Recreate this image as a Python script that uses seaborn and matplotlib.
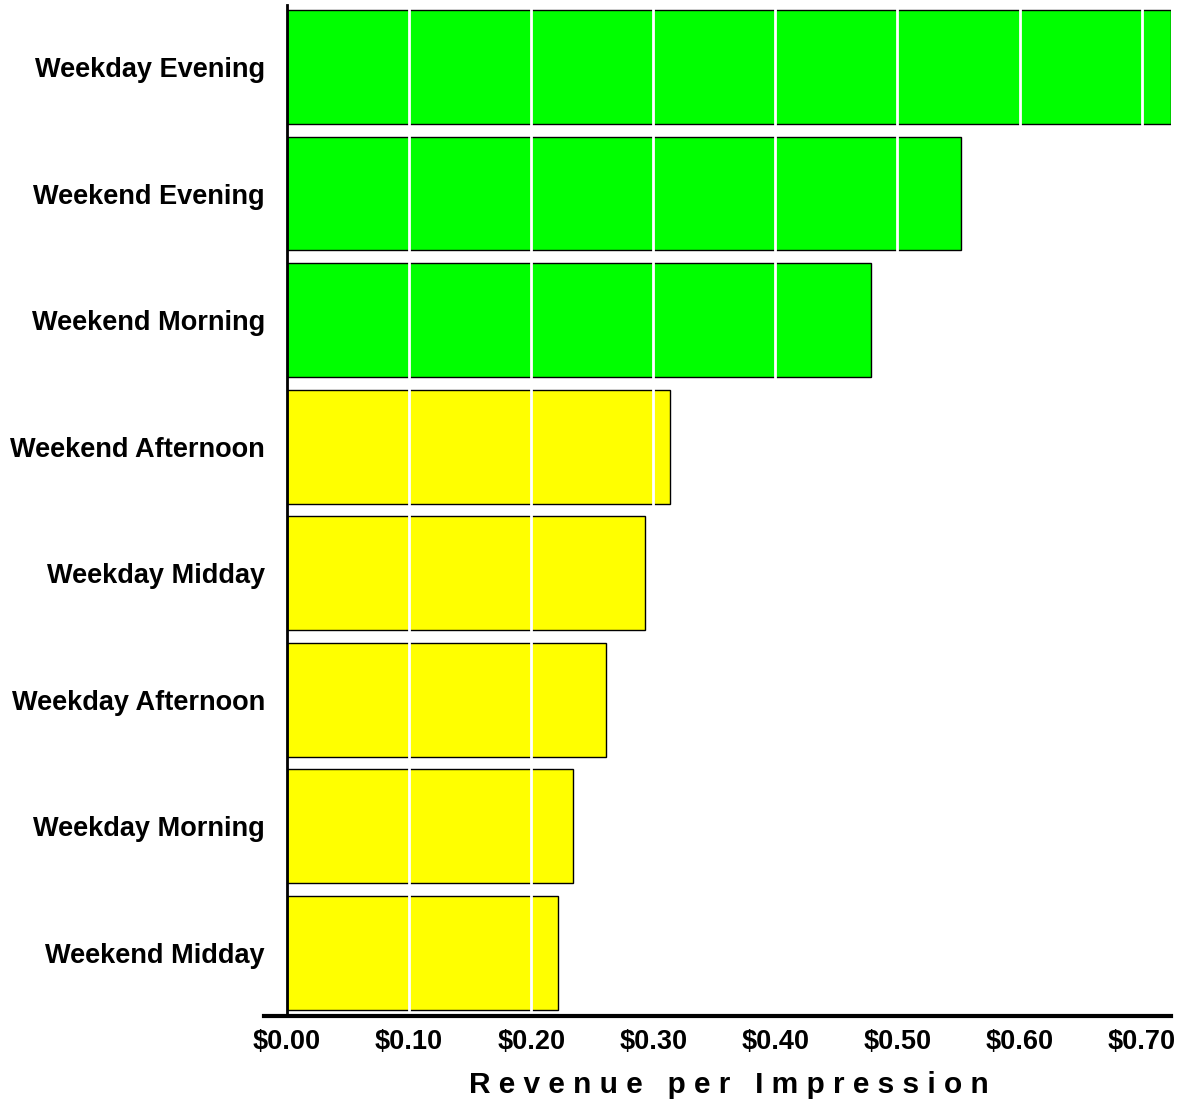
import matplotlib
matplotlib.use("Agg")
import matplotlib.pyplot as plt
import seaborn as sns
import pandas as pd
from matplotlib.ticker import FuncFormatter

categories = ["Weekday Evening", "Weekend Evening", "Weekend Morning", "Weekend Afternoon",
              "Weekday Midday", "Weekday Afternoon", "Weekday Morning", "Weekend Midday"]
revenue = [0.724, 0.552, 0.478, 0.314, 0.293, 0.261, 0.234, 0.222]
tier = ["high", "high", "high", "low", "low", "low", "low", "low"]
tier_colors = {"high": "#00ff00", "low": "#ffff00"}
xticks = [0.0, 0.1, 0.2, 0.3, 0.4, 0.5, 0.6, 0.7]

df = pd.DataFrame({"category": categories, "revenue": revenue, "tier": tier})

sns.set_theme(style="white")
plt.rcParams["font.family"] = ["Liberation Sans", "DejaVu Sans"]

fig = plt.figure(figsize=(11.87, 10.99), dpi=100)
ax = fig.add_axes([287/1187, (1099-1016)/1099, (1171-287)/1187, (1016-5)/1099])

sns.barplot(data=df, y="category", x="revenue", hue="tier", palette=tier_colors,
            dodge=False, width=0.9, edgecolor="black", linewidth=1.0, saturation=1,
            legend=False, ax=ax, order=categories)

ax.set_xlim(0, max(revenue))
ax.set_ylim(7.5, -0.49)
ax.set_xticks(xticks)
ax.xaxis.set_major_formatter(FuncFormatter(lambda v, p: f"${v:.2f}"))
ax.set_axisbelow(False)
ax.grid(axis="x", color="white", linewidth=2)
ax.grid(axis="y", visible=False)
# hide the gridline at 0 so the spine stays black
ax.get_xgridlines()[0].set_visible(False)

for s in ["top", "right"]:
    ax.spines[s].set_visible(False)
ax.spines["left"].set_color("black")
ax.spines["left"].set_linewidth(2)
ax.spines["left"].set_zorder(5)
ax.spines["bottom"].set_color("black")
ax.spines["bottom"].set_linewidth(3)
ax.spines["bottom"].set_zorder(5)
ax.spines["bottom"].set_bounds(-0.0189, max(revenue))

ax.tick_params(axis="x", length=0, pad=9, labelsize=19.5, labelcolor="black")
ax.tick_params(axis="y", length=0, pad=16, labelsize=19.5, labelcolor="black")
for lab in ax.get_xticklabels() + ax.get_yticklabels():
    lab.set_fontweight("bold")

ax.set_ylabel("")
ax.set_xlabel("   ".join(" ".join(w) for w in "Revenue per Impression".split()),
              fontsize=21.5, fontweight="bold", color="black", labelpad=12)

fig.savefig("out.png", dpi=100)
